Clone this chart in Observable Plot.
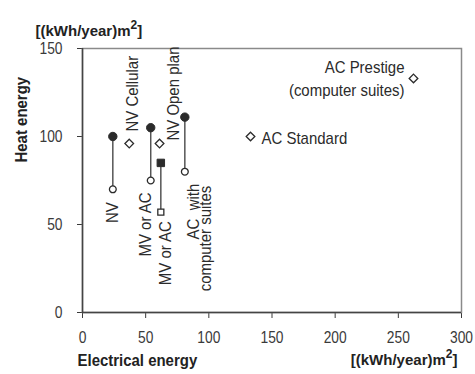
<!DOCTYPE html>
<html>
<head>
<meta charset="utf-8">
<script src="https://cdn.jsdelivr.net/npm/d3@7"></script>
<script src="https://cdn.jsdelivr.net/npm/@observablehq/plot@0.6"></script>
<style>
  html, body { margin: 0; padding: 0; background: #fff; }
</style>
</head>
<body>
<div id="chart"></div>
<script>
// Building types whose heat energy falls between a good-practice (open) and a typical (filled) value
const pairNames = ["NV", "MV or AC", "MV or AC", "AC with computer suites"];
const pairElec = [24, 54, 62, 81];
const pairHeatTypical = [100, 105, 85, 111];
const pairHeatGood = [70, 75, 57, 80];
const pairSymbols = ["circle", "circle", "square", "circle"];

// Single-value building types
const singleNames = ["NV Cellular", "NV Open plan", "AC Standard", "AC Prestige"];
const singleElec = [37, 61, 133, 262];
const singleHeat = [96, 96, 100, 133];

// Axis ticks and titles
const xTicks = [0, 50, 100, 150, 200, 250, 300];
const yTicks = [0, 50, 100, 150];
const xTitle = "Electrical energy";
const yTitle = "Heat energy";
const unitText = "[(kWh/year)m²]";

const pairs = pairNames.map((name, i) => ({
  name, elec: pairElec[i], typical: pairHeatTypical[i], good: pairHeatGood[i], symbol: pairSymbols[i]
}));
const singles = singleNames.map((name, i) => ({ name, elec: singleElec[i], heat: singleHeat[i] }));

const ink = "#2b2b2b";
const font = "'Liberation Sans', Arial, Helvetica, sans-serif";
const labelSize = 17;

// Helper for a rotated label hanging off a given point
const vlabel = (text, x, y, opts) =>
  Plot.text([text], { x: () => x, y: () => y, rotate: -90, fill: ink, fontSize: labelSize, lineAnchor: "middle", ...opts });

const chart = Plot.plot({
  width: 475,
  height: 374,
  marginLeft: 82,
  marginRight: 14,
  marginTop: 48,
  marginBottom: 62,
  style: { fontFamily: font, fontSize: "16px", color: "#3a3a3a", background: "#fff" },
  x: { domain: [0, 300], ticks: xTicks, tickSize: 6, tickPadding: 13, label: null },
  y: { domain: [0, 150], ticks: yTicks, tickSize: 5, tickPadding: 15, label: null },
  marks: [
    Plot.frame({ stroke: "#8a8a8a", strokeWidth: 1.5 }),
    Plot.ruleX([0], { stroke: "#444", strokeWidth: 1.5 }),
    Plot.ruleY([0], { stroke: "#444", strokeWidth: 1.5 }),

    // ranges between good-practice and typical values
    Plot.ruleX(pairs, { x: "elec", y1: "good", y2: "typical", stroke: "#555", strokeWidth: 1.5 }),
    Plot.dot(pairs, { x: "elec", y: "typical", symbol: "symbol", r: 4.2, fill: ink, stroke: ink, strokeWidth: 1 }),
    Plot.dot(pairs, { x: "elec", y: "good", symbol: "symbol", r: 3.4, fill: "#fff", stroke: ink, strokeWidth: 1.3 }),

    // single values
    Plot.dot(singles, { x: "elec", y: "heat", symbol: "diamond2", r: 3.9, fill: "#fff", stroke: ink, strokeWidth: 1.3 }),

    // labels for the ranges
    vlabel(pairNames[0], pairElec[0], pairHeatGood[0], { textAnchor: "end", dy: 13 }),
    vlabel(pairNames[1], pairElec[1], pairHeatGood[1], { textAnchor: "end", dx: -5, dy: 12 }),
    vlabel(pairNames[2], pairElec[2], pairHeatGood[2], { textAnchor: "end", dx: 5, dy: 9 }),
    vlabel("AC  with", pairElec[3], pairHeatGood[3], { textAnchor: "end", dx: 9, dy: 12 }),
    vlabel("computer suites", pairElec[3], pairHeatGood[3], { textAnchor: "end", dx: 21, dy: 14 }),

    // labels for the single values
    vlabel(singleNames[0], singleElec[0], singleHeat[0], { textAnchor: "start", dx: 3, dy: -12 }),
    vlabel(singleNames[1], singleElec[1], singleHeat[1], { textAnchor: "start", dx: 14, dy: -3 }),
    Plot.text([singleNames[2]], { x: () => singleElec[2], y: () => singleHeat[2], textAnchor: "start", dx: 11, dy: 2, fill: ink, fontSize: labelSize }),
    Plot.text([singleNames[3]], { x: () => singleElec[3], y: () => singleHeat[3], textAnchor: "end", dx: -9, dy: -11, fill: ink, fontSize: labelSize }),
    Plot.text(["(computer suites)"], { x: () => singleElec[3], y: () => singleHeat[3], textAnchor: "end", dx: -9, dy: 12, fill: ink, fontSize: labelSize }),

    // axis titles and units
    Plot.text([yTitle], { frameAnchor: "left", rotate: -90, dx: -61, dy: -18, fontWeight: "bold", fontSize: labelSize, fill: "#222" }),
    Plot.text([xTitle], { frameAnchor: "bottom-left", textAnchor: "start", dx: -5, dy: 53, fontWeight: "bold", fontSize: labelSize, fill: "#222" }),
    Plot.text([unitText], { frameAnchor: "top-left", textAnchor: "start", dx: -47, dy: -23, fontWeight: "bold", fontSize: 15, fill: "#222" }),
    Plot.text([unitText], { frameAnchor: "bottom-right", textAnchor: "end", dx: -4, dy: 52, fontWeight: "bold", fontSize: 15, fill: "#222" })
  ]
});

// Render the squared unit with a raised "2"
const NS = "http://www.w3.org/2000/svg";
chart.querySelectorAll("text").forEach((t) => {
  const s = t.textContent;
  const i = s.indexOf("²");
  if (i < 0 || t.children.length) return;
  t.textContent = "";
  const a = document.createElementNS(NS, "tspan");
  a.textContent = s.slice(0, i);
  const b = document.createElementNS(NS, "tspan");
  b.textContent = "2";
  b.setAttribute("dy", "-7");
  b.setAttribute("font-size", "12");
  const c = document.createElementNS(NS, "tspan");
  c.textContent = s.slice(i + 1);
  c.setAttribute("dy", "7");
  t.append(a, b, c);
});
// keep doubled spaces inside labels
chart.setAttribute("xml:space", "preserve");
chart.style.whiteSpace = "pre";

document.getElementById("chart").append(chart);

// Narrow the single-run lettering to a condensed grotesque look
chart.querySelectorAll("text").forEach((t) => {
  if (t.children.length) return;
  const len = t.getComputedTextLength();
  if (!len) return;
  const inAxis = t.closest("g[aria-label$='axis tick label']");
  const k = inAxis ? 0.86 : 0.88;
  t.setAttribute("textLength", (len * k).toFixed(1));
  t.setAttribute("lengthAdjust", "spacingAndGlyphs");
});
</script>
</body>
</html>
